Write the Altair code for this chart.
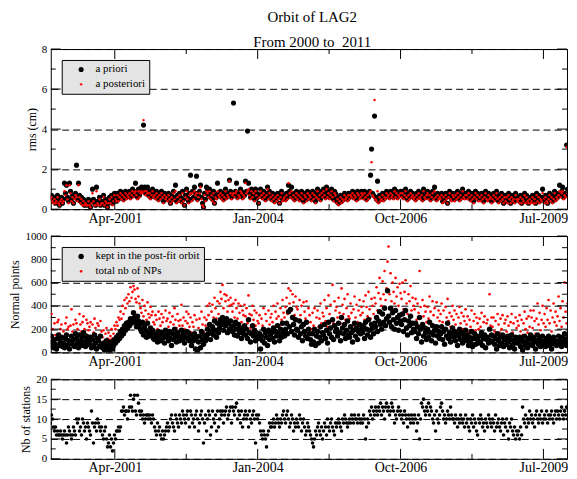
import altair as alt
import pandas as pd

# ---------------- texts and axis values ----------------
TITLE_LINES = ["Orbit of LAG2", "From 2000 to\u00a0 2011"]
X_DOMAIN = [51552, 55165]          # MJD of the visible part, Jan 2000 .. Dec 2009
START_MJD = 51550                  # first weekly arc
STEP_DAYS = 7
X_MAJOR = [52000, 53000, 54000, 55000]
X_LABELS = ["Apr-2001", "Jan-2004", "Oct-2006", "Jul-2009"]
X_MINOR = [52500, 53500, 54500]

RMS_MAJOR = [0, 2, 4, 6, 8]
RMS_MINOR = [1, 3, 5, 7]
NP_MAJOR = [0, 200, 400, 600, 800, 1000]
NP_MINOR = [100, 300, 500, 700, 900]
ST_MAJOR = [0, 5, 10, 15, 20]
ST_MINOR = [2.5, 7.5, 12.5, 17.5]

RMS_SERIES = ["a priori", "a posteriori"]
NP_SERIES = ["kept in the post-fit orbit", "total nb of NPs"]

# ---------------- data (weekly arcs, one line = one quarter) ----------------
apriori = [
 0.6,0.7,0.5,0.4,0.6,0.3,0.5,0.7,0.4,0.2,0.5,0.6,0.3,
 0.5,1.3,0.8,1.2,0.6,0.4,1.3,0.9,0.5,0.7,0.3,0.6,0.8,
 2.2,0.5,1.3,0.7,0.4,0.6,0.3,0.5,0.2,0.4,0.3,0.2,0.5,
 0.3,0.1,0.4,1.0,0.5,0.3,0.2,1.1,0.4,0.3,0.6,0.2,0.4,
 0.3,0.7,0.2,0.5,0.4,0.1,0.3,0.6,0.4,0.7,0.3,0.5,0.8,
 0.6,0.4,0.8,0.5,0.7,0.9,0.6,0.8,0.5,0.7,0.9,0.6,0.8,
 0.7,0.9,0.6,0.8,1.0,0.7,0.9,1.3,0.8,0.6,1.0,0.7,0.9,
 1.1,1.0,4.2,1.1,0.8,1.0,1.1,0.7,0.9,0.6,0.8,1.0,0.7,
 0.8,0.6,0.9,0.7,0.5,0.8,0.6,0.9,0.7,0.4,0.8,0.6,0.7,
 0.5,0.8,0.6,0.3,0.7,0.5,0.9,0.6,1.2,0.4,0.7,0.5,0.8,
 0.6,0.4,0.9,0.5,0.2,0.7,1.0,0.6,0.4,0.8,1.7,0.5,0.9,
 0.6,1.1,0.8,1.65,0.5,0.7,0.9,1.2,0.6,0.3,0.1,0.8,0.5,
 1.1,0.9,0.7,1.0,0.6,0.8,0.5,0.9,0.3,0.7,0.6,1.3,0.8,
 0.7,0.9,0.6,0.8,0.5,0.7,1.0,0.6,0.8,0.7,1.45,0.9,0.6,
 0.8,5.3,0.7,0.9,1.3,0.6,0.8,0.7,1.0,0.9,0.6,0.8,0.7,
 1.4,0.9,3.9,1.3,0.8,0.6,1.0,0.7,0.9,0.5,1.0,0.8,0.6,
 0.3,0.7,1.0,0.8,0.6,0.9,0.7,0.5,0.8,1.1,0.6,0.9,0.7,
 0.5,0.8,0.6,0.4,0.7,0.5,0.8,0.6,0.3,0.7,0.9,0.5,0.6,
 0.7,0.5,0.8,0.6,1.2,0.9,0.7,1.1,0.6,0.8,0.5,0.7,0.9,
 0.6,0.8,0.5,0.7,0.9,0.6,0.4,0.8,0.7,0.5,0.9,0.6,0.8,
 0.7,0.5,0.9,0.6,0.8,0.4,0.7,1.0,0.6,0.8,0.5,0.9,0.7,
 1.0,0.8,0.6,1.1,0.7,0.9,0.6,0.8,1.0,0.7,0.5,0.9,0.8,
 0.4,0.6,0.3,0.5,0.7,0.4,0.6,0.5,0.8,0.6,0.7,0.5,0.8,
 0.6,0.8,0.7,0.9,0.6,0.8,0.7,0.5,0.9,0.8,0.6,0.7,0.9,
 0.8,0.6,0.9,0.7,0.5,0.8,0.6,0.9,1.7,3.0,0.8,0.7,4.65,
 0.6,0.5,1.4,0.4,0.7,0.5,0.6,0.8,0.5,0.7,0.6,0.9,0.7,
 0.8,0.6,0.9,0.7,0.8,0.6,1.0,0.7,0.9,0.6,0.8,0.7,0.9,
 0.7,0.9,0.6,0.8,1.0,0.7,0.5,0.8,0.6,0.9,0.7,0.8,0.6,
 0.7,0.5,0.8,0.6,0.9,0.7,0.6,0.8,0.5,1.0,0.7,0.6,0.8,
 0.9,0.6,0.8,0.5,0.7,0.9,0.6,1.1,0.7,0.5,0.8,0.6,0.7,
 0.6,0.8,0.4,0.7,0.5,0.8,0.6,0.3,0.7,0.9,0.6,0.5,0.8,
 0.7,0.5,0.8,0.6,0.9,0.7,0.5,0.8,0.6,1.0,0.7,0.6,0.8,
 0.8,0.6,0.9,0.7,0.5,0.8,0.6,0.4,0.7,0.9,0.6,0.8,0.5,
 0.7,0.5,0.8,0.6,0.4,0.7,0.9,0.6,0.5,0.8,0.6,0.7,0.4,
 0.6,0.8,0.5,0.7,0.9,0.6,0.4,0.7,0.5,0.8,0.6,0.3,0.7,
 0.5,0.7,0.4,0.8,0.6,0.3,0.7,0.5,0.6,0.4,0.8,0.6,0.5,
 0.6,0.4,0.7,0.3,0.6,0.5,0.8,0.4,0.7,0.5,0.3,0.6,0.4,
 0.5,0.7,0.4,0.6,0.3,0.8,0.5,0.7,0.4,0.6,0.5,1.0,0.6,
 0.4,0.7,0.5,0.3,0.6,0.8,0.5,0.7,0.4,0.6,0.9,0.5,0.7,
 0.6,0.8,1.2,0.7,0.9,1.1,0.6,0.8,0.7,3.2,1.0,0.7,0.9,
]

aposteriori = [
 0.5,0.6,0.4,0.3,0.5,0.3,0.4,0.6,0.3,0.2,0.4,0.5,0.3,
 0.4,0.9,0.7,1.2,0.5,0.3,1.2,0.8,0.4,0.6,0.3,0.5,0.7,
 0.6,0.4,1.2,0.6,0.3,0.5,0.2,0.4,0.2,0.3,0.2,0.2,0.4,
 0.2,0.1,0.3,0.8,0.4,0.2,0.2,0.9,0.3,0.2,0.5,0.2,0.3,
 0.3,0.6,0.2,0.4,0.3,0.1,0.3,0.5,0.3,0.6,0.2,0.4,0.7,
 0.5,0.4,0.7,0.4,0.6,0.8,0.5,0.7,0.4,0.6,0.8,0.5,0.7,
 0.6,0.8,0.5,0.7,0.9,0.6,0.8,0.9,0.7,0.5,0.9,0.6,0.8,
 0.9,0.8,4.45,0.9,0.7,0.9,0.8,0.6,0.8,0.5,0.7,0.9,0.6,
 0.7,0.5,0.8,0.6,0.4,0.7,0.5,0.8,0.6,0.3,0.7,0.5,0.6,
 0.4,0.7,0.5,0.3,0.6,0.4,0.8,0.5,0.9,0.3,0.6,0.4,0.7,
 0.5,0.3,0.8,0.4,0.2,0.6,0.9,0.5,0.3,0.7,0.8,0.4,0.8,
 0.5,0.9,0.7,0.8,0.4,0.6,0.8,1.1,0.5,0.2,0.1,0.7,0.4,
 0.9,0.8,0.6,0.9,0.5,0.7,0.4,0.8,0.3,0.6,0.5,0.9,0.7,
 0.6,0.8,0.5,0.7,0.4,0.6,0.9,0.5,0.7,0.6,1.4,0.8,0.5,
 0.7,0.8,0.6,0.8,0.9,0.5,0.7,0.6,0.9,0.8,0.5,0.7,0.6,
 1.3,0.8,0.9,1.0,0.7,0.5,0.9,0.6,0.8,0.4,0.9,0.7,0.5,
 0.3,0.6,0.9,0.7,0.5,0.8,0.6,0.4,0.7,1.0,0.5,0.8,0.6,
 0.4,0.7,0.5,0.3,0.6,0.4,0.7,0.5,0.3,0.6,0.8,0.4,0.5,
 0.6,0.4,0.7,0.5,1.3,0.8,0.6,0.9,0.5,0.7,0.4,0.6,0.8,
 0.5,0.7,0.4,0.6,0.8,0.5,0.3,0.7,0.6,0.4,0.8,0.5,0.7,
 0.6,0.4,0.8,0.5,0.7,0.3,0.6,0.9,0.5,0.7,0.4,0.8,0.6,
 0.9,0.7,0.5,1.0,0.6,0.8,0.5,0.7,0.9,0.6,0.4,0.8,0.7,
 0.3,0.5,0.2,0.4,0.6,0.3,0.5,0.4,0.7,0.5,0.6,0.4,0.7,
 0.5,0.7,0.6,0.8,0.5,0.7,0.6,0.4,0.8,0.7,0.5,0.6,0.8,
 0.7,0.5,0.8,0.6,0.4,0.7,0.5,0.8,0.9,2.35,0.7,0.6,5.45,
 0.5,0.4,0.9,0.3,0.6,0.4,0.5,0.7,0.4,0.6,0.5,0.8,0.6,
 0.7,0.5,0.8,0.6,0.7,0.5,0.9,0.6,0.8,0.5,0.7,0.6,0.8,
 0.6,0.8,0.5,0.7,0.9,0.6,0.4,0.7,0.5,0.8,0.6,0.7,0.5,
 0.6,0.4,0.7,0.5,0.8,0.6,0.5,0.7,0.4,0.9,0.6,0.5,0.7,
 0.8,0.5,0.7,0.4,0.6,0.8,0.5,0.9,0.6,0.4,0.7,0.5,0.6,
 0.5,0.7,0.3,0.6,0.4,0.7,0.5,0.3,0.6,0.8,0.5,0.4,0.7,
 0.6,0.4,0.7,0.5,0.8,0.6,0.4,0.7,0.5,0.9,0.6,0.5,0.7,
 0.7,0.5,0.8,0.6,0.4,0.7,0.5,0.3,0.6,0.8,0.5,0.7,0.4,
 0.6,0.4,0.7,0.5,0.3,0.6,0.8,0.5,0.4,0.7,0.5,0.6,0.3,
 0.5,0.7,0.4,0.6,0.8,0.5,0.3,0.6,0.4,0.7,0.5,0.3,0.6,
 0.4,0.6,0.3,0.7,0.5,0.3,0.6,0.4,0.5,0.3,0.7,0.5,0.4,
 0.5,0.3,0.6,0.3,0.5,0.4,0.7,0.3,0.6,0.4,0.3,0.5,0.3,
 0.4,0.6,0.3,0.5,0.3,0.7,0.4,0.6,0.3,0.5,0.4,0.8,0.5,
 0.3,0.6,0.4,0.3,0.5,0.7,0.4,0.6,0.3,0.5,0.8,0.4,0.6,
 0.5,0.7,0.9,0.6,0.8,0.9,0.5,0.7,0.6,3.1,0.8,0.6,0.8,
]

np_kept = [
 60,140,90,40,110,70,30,120,150,60,90,130,50,
 80,40,120,150,60,100,30,90,140,70,110,50,160,
 120,80,40,150,100,60,130,170,90,50,140,110,70,
 90,130,40,110,60,150,80,30,120,100,50,140,70,
 40,80,20,60,100,30,70,20,50,90,30,60,110,
 80,130,100,150,120,180,140,200,160,230,190,250,210,
 260,230,290,250,280,340,300,260,220,310,270,240,200,
 180,260,150,220,190,130,250,170,140,210,160,190,120,
 110,160,130,90,180,140,100,170,120,150,80,190,130,
 150,100,180,120,60,160,110,200,140,90,170,130,100,
 140,190,110,160,80,130,180,120,170,100,150,60,120,
 100,160,30,130,20,90,140,40,180,110,70,150,100,
 130,200,160,240,110,180,220,150,270,190,130,250,170,
 210,280,240,300,190,260,230,290,170,250,200,270,220,
 180,230,150,260,200,140,240,170,210,120,190,160,230,
 150,200,120,280,170,90,160,230,140,190,100,170,130,
 120,160,30,140,100,200,80,170,130,60,190,110,150,
 170,120,210,90,180,140,230,160,100,200,130,250,170,
 140,200,250,160,350,220,370,180,300,240,150,280,200,
 190,130,270,160,220,100,240,180,140,260,120,200,160,
 110,70,160,90,200,60,140,180,80,130,220,100,170,
 150,240,120,190,80,260,160,210,130,280,110,230,180,
 200,140,250,170,100,300,210,160,240,120,190,270,150,
 130,220,170,90,190,250,140,210,110,180,240,160,200,
 170,230,120,260,200,150,280,190,130,240,210,160,250,
 220,300,180,270,350,240,200,330,260,380,230,290,530,
 310,260,380,220,340,280,200,360,250,300,190,320,270,
 240,330,180,280,360,210,150,270,230,310,170,250,200,
 180,250,120,220,160,300,200,90,240,140,210,170,110,
 200,130,260,170,100,230,150,190,80,220,140,180,120,
 160,220,110,180,70,200,140,250,120,170,90,150,210,
 130,180,100,160,60,140,200,110,170,80,150,120,190,
 100,150,60,130,90,180,50,120,160,70,140,110,80,
 140,90,170,60,120,150,40,110,130,80,200,100,150,
 90,140,70,120,30,160,100,60,130,80,150,50,110,
 120,70,140,90,40,110,150,60,100,30,130,80,120,
 80,130,50,110,20,90,140,60,100,40,120,70,150,
 110,60,130,90,30,100,150,70,120,50,90,140,80,
 100,50,120,80,140,60,110,30,90,130,70,100,60,
 90,140,70,110,50,130,80,160,100,60,120,150,90,
]

np_total = [
 130,330,200,110,250,150,120,260,280,160,200,240,120,
 180,140,250,300,200,220,110,230,370,180,240,150,280,
 250,200,150,330,240,180,260,310,200,160,280,250,190,
 220,260,140,240,170,290,210,120,250,230,150,270,180,
 130,190,100,160,210,120,170,110,140,200,120,160,230,
 200,260,230,300,280,350,290,400,330,450,380,470,420,
 500,440,560,470,520,570,540,460,430,550,480,420,380,
 340,450,310,400,360,280,430,330,300,390,320,350,260,
 240,320,280,200,350,290,230,330,260,300,190,360,270,
 290,220,340,260,160,310,240,380,280,210,330,270,230,
 280,410,230,300,200,270,350,250,330,220,300,170,260,
 220,320,120,280,100,210,290,150,350,240,180,300,230,
 280,400,320,420,250,350,410,300,470,380,290,440,330,
 420,520,460,580,380,500,440,490,350,450,400,470,410,
 350,420,300,450,380,290,420,340,400,260,360,320,410,
 310,380,250,490,330,210,320,400,280,360,230,340,270,
 250,320,150,290,230,380,200,330,270,170,360,240,300,
 330,260,400,220,350,290,420,310,230,380,280,450,340,
 300,390,470,330,550,420,530,360,500,430,320,480,390,
 370,280,450,320,400,240,430,350,290,440,260,380,320,
 260,200,340,230,380,190,300,360,220,290,420,250,340,
 310,450,270,380,220,490,330,410,280,580,250,440,360,
 390,300,470,340,250,550,410,330,460,280,380,500,310,
 290,420,340,230,370,480,300,410,260,360,450,320,390,
 340,440,280,490,390,310,520,370,290,460,400,330,470,
 420,560,360,510,640,460,400,610,500,700,450,550,780,
 910,500,680,440,600,520,420,640,480,560,400,590,510,
 460,600,370,520,620,420,330,500,440,570,360,470,400,
 370,460,280,420,340,700,390,230,450,310,400,350,260,
 390,290,480,350,240,440,320,380,200,430,300,360,270,
 330,420,260,360,200,390,300,460,270,340,220,310,400,
 280,360,240,330,180,300,390,250,340,200,310,270,370,
 240,310,170,280,220,360,160,270,330,190,300,250,200,
 290,220,340,170,260,310,150,250,280,200,500,230,300,
 220,300,180,270,120,330,240,170,290,200,320,150,250,
 280,180,310,230,140,260,330,170,250,120,300,210,270,
 230,320,180,280,150,250,350,200,290,170,310,220,360,
 300,210,360,270,160,290,420,240,340,190,280,400,250,
 330,220,380,280,450,250,360,180,300,420,260,350,230,
 310,480,270,380,220,440,300,600,350,250,420,560,340,
]

stations = [
 9,11,10,8,7,8,6,7,6,6,7,6,5,
 6,7,6,4,6,8,7,6,5,6,8,7,6,
 10,9,10,7,8,6,10,9,7,8,5,9,8,
 7,6,12,9,4,8,9,7,10,9,8,7,8,
 6,5,7,8,5,3,4,6,3,5,2,4,6,
 5,7,7,8,7,8,12,12,13,11,12,12,10,
 12,13,16,13,12,15,16,12,11,16,14,12,11,
 12,10,11,9,10,11,11,10,11,10,9,11,10,
 8,7,6,9,7,8,6,5,7,5,6,7,8,
 9,7,8,10,11,9,8,7,11,10,9,8,11,
 10,9,12,11,10,9,11,12,10,8,12,11,9,
 10,8,11,12,10,7,9,11,12,10,4,9,11,
 7,10,12,11,6,8,12,10,9,11,7,12,8,
 10,12,11,12,9,11,12,13,10,11,12,13,9,
 13,12,11,13,14,10,12,11,9,12,8,10,11,
 12,10,11,8,12,10,9,11,12,10,4,11,10,
 11,9,7,6,5,7,6,5,3,6,7,9,8,
 8,9,10,8,9,11,10,9,8,10,9,11,12,
 10,9,11,12,10,8,9,11,10,7,9,8,10,
 9,8,11,10,7,9,10,8,6,7,9,8,7,
 6,5,4,3,5,7,6,8,9,7,6,8,5,
 7,9,8,6,10,8,7,9,10,8,7,6,9,
 8,9,10,9,8,7,10,9,11,10,9,8,9,
 10,9,11,10,9,11,10,10,9,11,10,9,10,
 9,11,10,5,8,10,9,12,11,13,10,12,11,
 13,12,11,13,12,14,11,13,12,10,13,14,12,
 13,11,12,14,13,12,9,11,10,12,13,11,12,
 10,11,9,12,11,10,8,11,10,9,11,10,9,
 11,10,7,9,11,5,10,14,13,15,12,11,13,
 12,14,11,13,12,10,9,11,7,12,10,9,11,
 13,14,12,10,11,9,10,12,11,10,13,11,10,
 10,9,11,10,8,10,9,11,10,9,10,8,11,
 9,10,8,7,10,9,11,8,10,9,7,6,10,
 9,11,10,8,9,7,10,9,8,11,10,9,8,
 10,9,7,11,8,9,10,8,7,9,10,6,9,
 8,10,7,5,9,8,10,7,6,8,5,7,6,
 7,5,8,6,13,10,9,11,8,10,9,12,10,
 11,9,10,8,11,12,10,9,11,10,12,9,10,
 11,10,12,9,11,10,11,12,10,9,11,12,10,
 12,11,10,12,13,11,10,12,11,13,10,12,11,
]

# ---------------- styling ----------------
SERIF = "Liberation Serif"
W = 519
H_RMS, H_NP, H_ST = 161, 117, 80
MAJ_LEN, MIN_LEN = 10, 5

xscale = alt.Scale(domain=X_DOMAIN, nice=False, zero=False)
label_expr = "".join(f"datum.value == {v} ? '{l}' : " for v, l in zip(X_MAJOR, X_LABELS)) + "''"
X_AXIS = alt.Axis(values=X_MAJOR, labelExpr=label_expr, title=None, grid=False, ticks=False,
                  tickSize=0, domain=False, labelFont=SERIF, labelFontSize=14,
                  labelColor="black", labelPadding=2, labelFlush=False)


def mjd_list(n):
    return [START_MJD + STEP_DAYS * i for i in range(n)]


def y_axis(title, values):
    return alt.Axis(values=values, title=title, format="d", grid=True, gridColor="black",
                    gridDash=[7, 4], gridWidth=1, ticks=False, tickSize=0, domain=False,
                    labelFont=SERIF, labelFontSize=11, labelColor="black",
                    labelPadding=4, titleFont=SERIF, titleFontSize=12,
                    titleFontWeight="normal", titleColor="black", titlePadding=3)


def legend():
    return alt.Legend(title=None, orient="top-left", offset=11, fillColor="#e4e4e4",
                      strokeColor="black", padding=4, labelFont=SERIF,
                      labelFontSize=11, labelColor="black", symbolOffset=10,
                      labelOffset=9, rowPadding=3, symbolStrokeWidth=0)


def frame_ticks(H, yscale, yaxis, ymaj, ymin):
    layers = []
    for vals, L in ((X_MAJOR, MAJ_LEN), (X_MINOR, MIN_LEN)):
        base = alt.Chart(pd.DataFrame({"t": vals})).mark_rule(color="black")
        xe = alt.X("t:Q", scale=xscale, axis=X_AXIS)
        layers.append(base.encode(x=xe, y=alt.value(H), y2=alt.value(H - L)))
        layers.append(base.encode(x=xe, y=alt.value(0), y2=alt.value(L)))
    for vals, L in ((ymaj, MAJ_LEN), (ymin, MIN_LEN)):
        base = alt.Chart(pd.DataFrame({"t": vals})).mark_rule(color="black")
        ye = alt.Y("t:Q", scale=yscale, axis=yaxis)
        layers.append(base.encode(y=ye, x=alt.value(0), x2=alt.value(L)))
        layers.append(base.encode(y=ye, x=alt.value(W), x2=alt.value(W - L)))
    return layers


# ---------------- panel 1: rms ----------------
n1 = min(len(apriori), len(aposteriori))
m1 = mjd_list(n1)
rms_df = pd.DataFrame({
    "mjd": m1 + m1,
    "rms": apriori[:n1] + aposteriori[:n1],
    "kind": [RMS_SERIES[0]] * n1 + [RMS_SERIES[1]] * n1,
})
rms_y = alt.Scale(domain=[0, 8], nice=False, zero=False)
rms_ax = y_axis("rms (cm)", RMS_MAJOR)
rms_pts = alt.Chart(rms_df).mark_circle(opacity=1, clip=True).encode(
    x=alt.X("mjd:Q", scale=xscale, axis=X_AXIS),
    y=alt.Y("rms:Q", scale=rms_y, axis=rms_ax),
    color=alt.Color("kind:N", scale=alt.Scale(domain=RMS_SERIES, range=["black", "red"]), legend=legend()),
    size=alt.Size("kind:N", scale=alt.Scale(domain=RMS_SERIES, range=[26, 6]), legend=legend()),
)
p1 = alt.layer(rms_pts, *frame_ticks(H_RMS, rms_y, rms_ax, RMS_MAJOR, RMS_MINOR)).properties(width=W, height=H_RMS)

# ---------------- panel 2: normal points ----------------
n2 = min(len(np_kept), len(np_total))
m2 = mjd_list(n2)
np_df = pd.DataFrame({
    "mjd": m2 + m2,
    "np": np_total[:n2] + np_kept[:n2],
    "kind": [NP_SERIES[1]] * n2 + [NP_SERIES[0]] * n2,
})
np_y = alt.Scale(domain=[0, 1000], nice=False, zero=False)
np_ax = y_axis("Normal points", NP_MAJOR)
np_pts = alt.Chart(np_df).mark_circle(opacity=1, clip=True).encode(
    x=alt.X("mjd:Q", scale=xscale, axis=X_AXIS),
    y=alt.Y("np:Q", scale=np_y, axis=np_ax),
    color=alt.Color("kind:N", scale=alt.Scale(domain=NP_SERIES, range=["black", "red"]), legend=legend()),
    size=alt.Size("kind:N", scale=alt.Scale(domain=NP_SERIES, range=[30, 7]), legend=legend()),
)
p2 = alt.layer(np_pts, *frame_ticks(H_NP, np_y, np_ax, NP_MAJOR, NP_MINOR)).properties(width=W, height=H_NP)

# ---------------- panel 3: stations ----------------
st_df = pd.DataFrame({"mjd": mjd_list(len(stations)), "st": stations})
st_y = alt.Scale(domain=[0, 20], nice=False, zero=False)
st_ax = y_axis("Nb of stations", ST_MAJOR)
st_pts = alt.Chart(st_df).mark_circle(opacity=1, color="black", size=13, clip=True).encode(
    x=alt.X("mjd:Q", scale=xscale, axis=X_AXIS),
    y=alt.Y("st:Q", scale=st_y, axis=st_ax),
)
p3 = alt.layer(st_pts, *frame_ticks(H_ST, st_y, st_ax, ST_MAJOR, ST_MINOR)).properties(width=W, height=H_ST)

chart = alt.vconcat(p1, p2, p3, spacing=3).resolve_scale(
    color="independent", size="independent"
).properties(
    title=alt.TitleParams(text=TITLE_LINES, font=SERIF, fontSize=15, fontWeight="normal",
                          color="black", anchor="middle", lineHeight=25, offset=-7, dx=24),
    padding={"left": 0, "top": 0, "right": 0, "bottom": 0},
    background="white",
).configure_view(stroke="black", strokeWidth=1)

chart.save("out.html", embed_options={"renderer": "svg", "actions": False})
